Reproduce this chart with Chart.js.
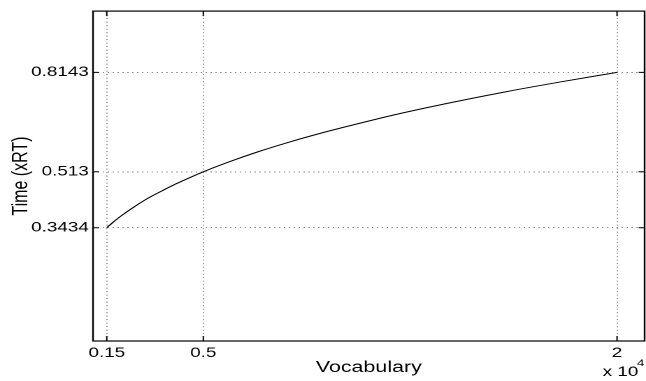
<!DOCTYPE html>
<html>
<head>
<meta charset="utf-8">
<script src="https://cdn.jsdelivr.net/npm/chart.js@4/dist/chart.umd.min.js"></script>
<style>
  html, body { margin: 0; padding: 0; background: #fff; overflow: hidden; }
  #wrap { width: 646px; height: 381px; overflow: hidden; }
  #c { display: block; transform: scaleX(1.3983); transform-origin: 0 0; }
</style>
</head>
<body>
<div id="wrap"><canvas id="c" width="462" height="381"></canvas></div>
<script>
// ---- data ----
const vocabulary = [1500, 1750, 2000, 2500, 3000, 3500, 4000, 5000, 6000, 7000, 8000, 9000, 10000, 12000, 14000, 16000, 18000, 20000];
const timeXRT    = [0.3434, 0.3615, 0.378, 0.407, 0.433, 0.455, 0.476, 0.513, 0.545, 0.574, 0.600, 0.624, 0.646, 0.687, 0.723, 0.756, 0.786, 0.8143];
const xTickValues = [1500, 5000, 20000];
const xTickLabels = ['0.15', '0.5', '2'];
const yTickValues = [0.3434, 0.513, 0.8143];
const yTickLabels = ['0.3434', '0.513', '0.8143'];
const xTitle = 'Vocabulary';
const yTitle = 'Time (xRT)';
const xExponentBase = 'x 10';
const xExponent = '4';

const FONT = '"Liberation Sans", Arial, Helvetica, sans-serif';

const points = vocabulary.map((v, i) => ({ x: v, y: timeXRT[i] }));

const framePlugin = {
  id: 'frame',
  afterDatasetsDraw(chart) {
    const { ctx, chartArea: a, scales } = chart;
    ctx.save();
    ctx.strokeStyle = '#000';
    ctx.lineWidth = 1;
    ctx.beginPath();
    scales.x.ticks.forEach(t => {
      const px = scales.x.getPixelForValue(t.value);
      ctx.moveTo(px, a.bottom); ctx.lineTo(px, a.bottom - 5);
      ctx.moveTo(px, a.top); ctx.lineTo(px, a.top + 5);
    });
    scales.y.ticks.forEach(t => {
      const py = scales.y.getPixelForValue(t.value);
      ctx.moveTo(a.left, py); ctx.lineTo(a.left + 4.3, py);
      ctx.moveTo(a.right, py); ctx.lineTo(a.right - 4.3, py);
    });
    ctx.stroke();
    ctx.lineWidth = 1.2;
    ctx.strokeRect(a.left, a.top, a.right - a.left, a.bottom - a.top);
    ctx.fillStyle = '#000';
    ctx.textBaseline = 'alphabetic';
    ctx.textAlign = 'left';
    ctx.font = '13.5px ' + FONT;
    ctx.fillText(xExponentBase, 431, 376);
    ctx.font = '9.5px ' + FONT;
    ctx.fillText(xExponent, 455.5, 366);
    ctx.restore();
  }
};

new Chart(document.getElementById('c'), {
  type: 'scatter',
  data: {
    datasets: [{
      data: points,
      showLine: true,
      borderColor: '#000',
      borderWidth: 1,
      pointRadius: 0,
      tension: 0.3,
      fill: false
    }]
  },
  options: {
    responsive: false,
    animation: false,
    devicePixelRatio: 2,
    layout: { padding: { top: 8, right: 1, left: 0, bottom: 0 } },
    plugins: { legend: { display: false }, tooltip: { enabled: false } },
    scales: {
      x: {
        type: 'linear',
        min: 1000,
        max: 21000,
        afterBuildTicks: s => { s.ticks = xTickValues.map(v => ({ value: v })); },
        afterFit: s => { s.height = 40; },
        ticks: {
          color: '#000',
          font: { family: FONT, size: 13.5 },
          padding: 4,
          maxRotation: 0,
          autoSkip: false,
          callback: (v, i) => xTickLabels[i]
        },
        grid: { color: 'rgba(0,0,0,0.45)', lineWidth: 1, drawTicks: false },
        border: { display: false, dash: [1, 2.5] },
        title: {
          display: true, text: xTitle, color: '#000',
          font: { family: FONT, size: 15.3 },
          padding: { top: 0, bottom: 4 }
        }
      },
      y: {
        type: 'linear',
        min: 0,
        max: 1,
        afterBuildTicks: s => { s.ticks = yTickValues.map(v => ({ value: v })); },
        afterFit: s => { s.width = 66.5; },
        ticks: {
          color: '#000',
          font: { family: FONT, size: 13.5 },
          padding: 3,
          autoSkip: false,
          callback: (v, i) => yTickLabels[i]
        },
        grid: { color: 'rgba(0,0,0,0.45)', lineWidth: 1, drawTicks: false },
        border: { display: false, dash: [1, 2.5] },
        title: {
          display: true, text: yTitle, color: '#000',
          font: { family: FONT, size: 16 },
          padding: { top: 5.3, bottom: 0 }
        }
      }
    }
  },
  plugins: [framePlugin]
});
</script>
</body>
</html>
